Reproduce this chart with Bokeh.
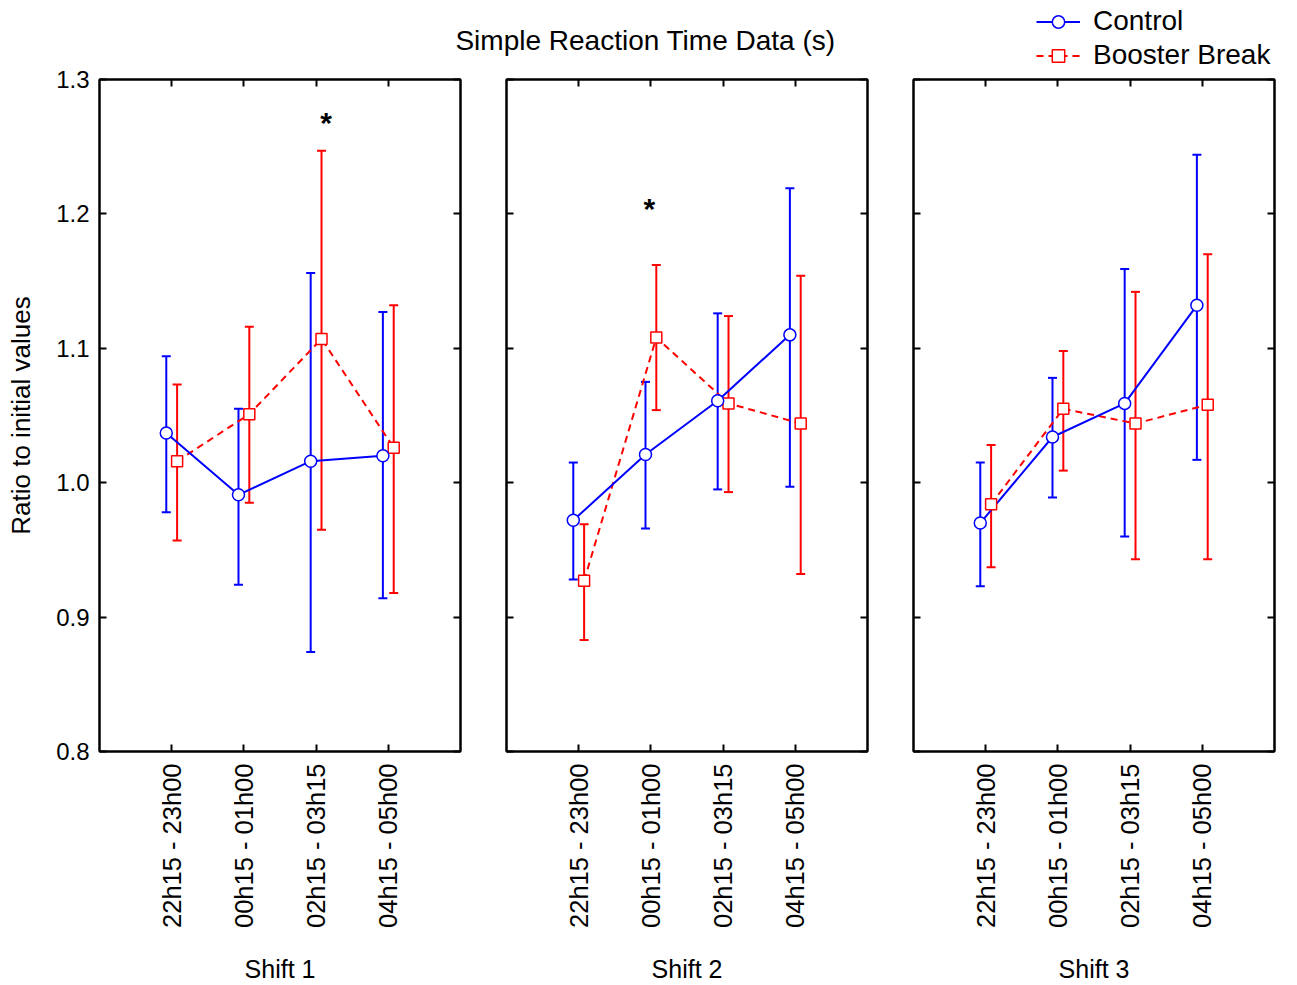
import math
from bokeh.plotting import figure
from bokeh.models import (ColumnDataSource, Whisker, TeeHead, Range1d, FixedTicker,
                          LinearAxis, PrintfTickFormatter, Legend, LegendItem, Label)
from bokeh.layouts import column, row
from bokeh.core.properties import value
from bokeh.embed import file_html
from bokeh.resources import INLINE

# ---------------- data ----------------
title_text = "Simple Reaction Time Data (s)"
y_label = "Ratio to initial values"
series_names = ["Control", "Booster Break"]
shifts = ["Shift 1", "Shift 2", "Shift 3"]
periods = ["22h15 - 23h00", "00h15 - 01h00", "02h15 - 03h15", "04h15 - 05h00"]
y_ticks = [0.8, 0.9, 1.0, 1.1, 1.2, 1.3]

control_mean = [[1.037, 0.991, 1.016, 1.020],
                [0.972, 1.021, 1.061, 1.110],
                [0.970, 1.034, 1.059, 1.132]]
control_upper = [[1.094, 1.055, 1.156, 1.127],
                 [1.015, 1.075, 1.126, 1.219],
                 [1.015, 1.078, 1.159, 1.244]]
control_lower = [[0.978, 0.924, 0.874, 0.914],
                 [0.928, 0.966, 0.995, 0.997],
                 [0.923, 0.989, 0.960, 1.017]]

booster_mean = [[1.016, 1.051, 1.107, 1.026],
                [0.927, 1.108, 1.059, 1.044],
                [0.984, 1.055, 1.044, 1.058]]
booster_upper = [[1.073, 1.116, 1.247, 1.132],
                 [0.969, 1.162, 1.124, 1.154],
                 [1.028, 1.098, 1.142, 1.170]]
booster_lower = [[0.957, 0.985, 0.965, 0.918],
                 [0.883, 1.054, 0.993, 0.932],
                 [0.937, 1.009, 0.943, 0.943]]

# significance markers: shift index, period index (1-based), level
star_shift = [0, 1]
star_period = [3, 2]
star_level = [1.270, 1.206]
star_nudge = [0.14, -0.02]

# ---------------- style ----------------
FONT = "Liberation Sans"
BLUE = "#0000FF"
RED = "#FF0000"
OFFSET = 0.075
FRAME_TOP = 79          # distance of the plot frames from the page top
TITLE_H = 59            # height of the title strip above panels 1-2
LEGEND_H = 72           # height of the legend strip above panel 3


def style_axis(ax, show_labels, label_size="24px"):
    ax.axis_line_color = "black"
    ax.axis_line_width = 2
    ax.major_tick_line_color = "black"
    ax.major_tick_line_width = 2
    ax.major_tick_in = 7
    ax.major_tick_out = 0
    ax.minor_tick_line_color = None
    ax.major_label_text_font = FONT
    ax.axis_label_text_font = FONT
    ax.axis_label_text_font_style = "normal"
    ax.axis_label_text_color = "black"
    ax.axis_label_text_font_size = "25px"
    if show_labels:
        ax.major_label_text_font_size = label_size
        ax.major_label_text_color = "black"
    else:
        ax.major_label_text_font_size = "1px"
        ax.major_label_text_color = None
        ax.major_label_standoff = 0


def make_panel(i, top_border):
    first = (i == 0)
    p = figure(frame_width=361, frame_height=672,
               x_range=Range1d(0, 5), y_range=Range1d(0.8, 1.3),
               output_backend="svg", toolbar_location=None,
               min_border_left=99 if first else 23, min_border_right=23,
               min_border_top=top_border, min_border_bottom=10,
               background_fill_color="white", border_fill_color="white")
    p.xgrid.visible = False
    p.ygrid.visible = False
    p.outline_line_color = "black"
    p.outline_line_width = 2

    xs = list(range(1, len(periods) + 1))

    xa = p.xaxis[0]
    xa.ticker = FixedTicker(ticks=xs)
    xa.major_label_overrides = {k: periods[k - 1] for k in xs}
    xa.major_label_orientation = math.pi / 2
    style_axis(xa, True, "25.5px")
    xa.major_label_standoff = 12
    xa.axis_label = shifts[i]
    xa.axis_label_standoff = 24

    ya = p.yaxis[0]
    ya.ticker = FixedTicker(ticks=y_ticks)
    ya.formatter = PrintfTickFormatter(format="%.1f")
    style_axis(ya, first, "24px")
    if first:
        ya.major_label_standoff = 10
        ya.axis_label = y_label
        ya.axis_label_text_font_size = "26px"
        ya.axis_label_standoff = 17

    ta = LinearAxis(ticker=FixedTicker(ticks=xs))
    style_axis(ta, False)
    p.add_layout(ta, "above")
    ra = LinearAxis(ticker=FixedTicker(ticks=y_ticks))
    style_axis(ra, False)
    p.add_layout(ra, "right")

    cs = ColumnDataSource(dict(x=[k - OFFSET for k in xs], y=control_mean[i],
                               upper=control_upper[i], lower=control_lower[i]))
    bs = ColumnDataSource(dict(x=[k + OFFSET for k in xs], y=booster_mean[i],
                               upper=booster_upper[i], lower=booster_lower[i]))

    for src, col in ((cs, BLUE), (bs, RED)):
        w = Whisker(source=src, base="x", upper="upper", lower="lower",
                    dimension="height", line_color=col, line_width=2, level="underlay",
                    upper_head=TeeHead(size=9, line_color=col, line_width=2),
                    lower_head=TeeHead(size=9, line_color=col, line_width=2))
        p.add_layout(w)

    p.line("x", "y", source=bs, line_color=RED, line_width=2, line_dash="7 5")
    p.line("x", "y", source=cs, line_color=BLUE, line_width=2)
    p.scatter("x", "y", source=bs, marker="square", size=11, fill_color="white",
              line_color=RED, line_width=1.5)
    p.scatter("x", "y", source=cs, marker="circle", size=12, fill_color="white",
              line_color=BLUE, line_width=1.5)

    sx = [star_period[k] + star_nudge[k] for k in range(len(star_shift)) if star_shift[k] == i]
    sy = [star_level[k] for k in range(len(star_shift)) if star_shift[k] == i]
    if sx:
        p.text(x=sx, y=sy, text=["*"] * len(sx), text_font=value(FONT),
               text_font_size="30px", text_font_style="bold", text_color="black",
               text_align="center", text_baseline="middle", y_offset=3)
    return p, cs, bs


p1, _, _ = make_panel(0, FRAME_TOP - TITLE_H)
p2, _, _ = make_panel(1, FRAME_TOP - TITLE_H)
p3, cs3, bs3 = make_panel(2, FRAME_TOP - LEGEND_H)


def strip(width, height):
    s = figure(width=width, height=height, x_range=Range1d(-2, -1), y_range=Range1d(-2, -1),
               output_backend="svg", toolbar_location=None, min_border=0,
               x_axis_location=None, y_axis_location=None,
               outline_line_color=None, background_fill_color="white",
               border_fill_color="white")
    s.xgrid.visible = False
    s.ygrid.visible = False
    return s


# title strip above panels 1 and 2
strip_w = (p1.frame_width + p1.min_border_left + p1.min_border_right +
           p2.frame_width + p2.min_border_left + p2.min_border_right)
top = strip(strip_w, TITLE_H)
top.add_layout(Label(x=645, y=TITLE_H - 40, x_units="screen", y_units="screen",
                     text=title_text, text_font=FONT, text_font_size="28px",
                     text_color="black", text_align="center", text_baseline="middle"))

# legend strip above panel 3 (its renderers share panel 3's data, which lies outside the strip's view)
leg_w = p3.frame_width + p3.min_border_left + p3.min_border_right
ls = strip(leg_w, LEGEND_H)
lc = ls.line("x", "y", source=cs3, line_color=BLUE, line_width=2)
mc = ls.scatter("x", "y", source=cs3, marker="circle", fill_color="white",
                line_color=BLUE, line_width=1.5)
lb = ls.line("x", "y", source=bs3, line_color=RED, line_width=2, line_dash="7 5")
mb = ls.scatter("x", "y", source=bs3, marker="square", fill_color="white",
                line_color=RED, line_width=1.5)
legend = Legend(items=[LegendItem(label=series_names[0], renderers=[lc, mc]),
                       LegendItem(label=series_names[1], renderers=[lb, mb])],
                location=(123, 1), orientation="vertical",
                label_text_font=FONT, label_text_font_size="28px", label_text_color="black",
                glyph_width=44, glyph_height=31, label_standoff=13, spacing=2,
                padding=0, margin=0, border_line_color=None, background_fill_alpha=0)
ls.add_layout(legend)

layout = row(column(top, row(p1, p2)), column(ls, p3))

open("out.html", "w").write(file_html(layout, INLINE))
